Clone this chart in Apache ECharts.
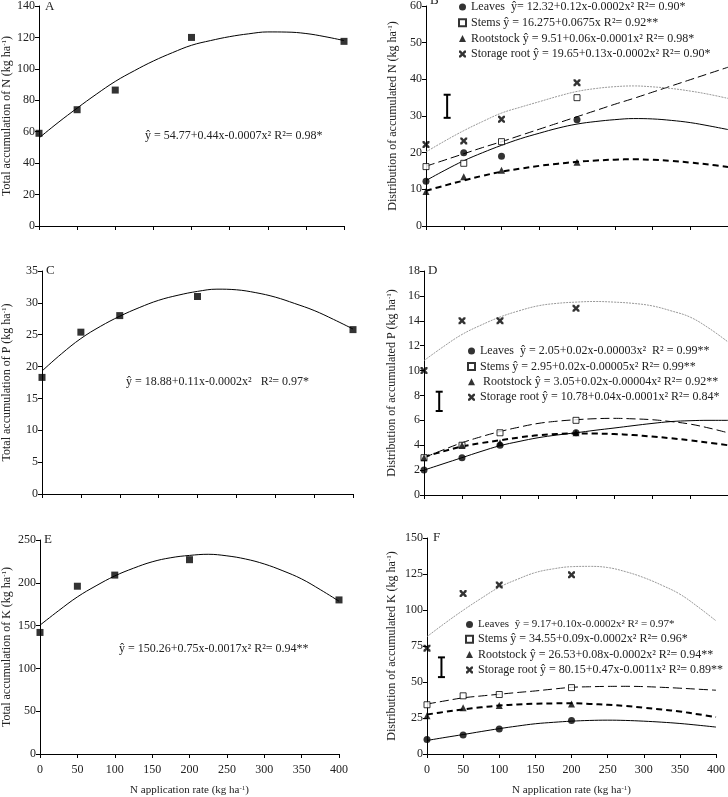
<!DOCTYPE html>
<html>
<head>
<meta charset="utf-8">
<script src="https://cdn.jsdelivr.net/npm/echarts@6/dist/echarts.min.js"></script>
<style>
html, body { margin: 0; padding: 0; background: #fff; }
#chart { width: 728px; height: 797px; }
</style>
</head>
<body>
<div id="chart"></div>
<script>
// x values (N application rate)
var rates = [0, 50, 100, 200, 400];
var ratesRight = [0, 50, 100, 200];
var curveX = [0, 25, 50, 75, 100, 125, 150, 175, 200, 225, 250, 275, 300, 325, 350, 375, 400];

// A, C, E - total accumulation (points and fitted curves)
var totalN = [59, 74, 86.5, 120, 117.5];
var totalNFit = [56, 65.8, 75, 83.8, 92, 98.8, 105, 110.3, 115, 118, 120.5, 122.3, 123.5, 123.4, 122.5, 120.5, 118];
var totalP = [18.3, 25.4, 28, 31, 25.8];
var totalPFit = [19.3, 22, 24.4, 26.3, 27.9, 29.25, 30.4, 31.2, 31.8, 32.15, 32.05, 31.6, 30.9, 29.9, 28.8, 27.4, 25.9];
var totalK = [142, 196, 209, 227, 180];
var totalKFit = [150.5, 167.5, 183.5, 196.5, 208, 217, 224.5, 229.3, 232, 233.3, 231.5, 227.8, 222, 214, 204.5, 192, 178.5];

// B - distribution of N
var nLeaves = [12.2, 20, 19, 29];
var nStems = [16.2, 17.1, 23, 35];
var nRoot = [9.4, 13.4, 15.2, 17.4];
var nStorage = [22.2, 23.2, 29.1, 39.1];
var nLeavesFit = [12.4, 15.2, 17.8, 20, 22, 23.8, 25.3, 26.7, 27.8, 28.5, 29, 29.3, 29.2, 28.8, 28.2, 27.3, 26.3];
var nStemsFit = [16.3, 18, 19.7, 21.4, 23, 24.7, 26.4, 28.1, 29.8, 31.5, 33.2, 34.8, 36.5, 38.2, 39.9, 41.6, 43.3];
var nRootFit = [9.6, 11.05, 12.4, 13.7, 14.8, 15.65, 16.4, 17, 17.5, 17.85, 18.1, 18.2, 18.05, 17.75, 17.3, 16.75, 16.1];
var nStorageFit = [20.2, 23.2, 26, 28.5, 30.8, 32.4, 33.9, 35.4, 36.7, 37.5, 38, 38.2, 37.95, 37.5, 36.8, 35.9, 34.8];
var nErrBar = [28, 29.5, 35.8];

// D - distribution of P
var pLeaves = [2, 3, 4, 5];
var pStems = [3, 4, 5, 6];
var pRoot = [3, 4, 4.2, 5];
var pStorage = [10, 14, 14, 15];
var pLeavesFit = [2, 2.5, 3, 3.5, 3.96, 4.3, 4.6, 4.82, 5, 5.2, 5.38, 5.57, 5.75, 5.9, 5.97, 6, 6];
var pStemsFit = [3, 3.62, 4.2, 4.68, 5.1, 5.45, 5.75, 5.93, 6.05, 6.13, 6.16, 6.12, 6.05, 5.9, 5.7, 5.38, 5];
var pRootFit = [3.07, 3.5, 3.9, 4.17, 4.4, 4.62, 4.8, 4.9, 4.95, 4.94, 4.9, 4.82, 4.7, 4.56, 4.4, 4.2, 4];
var pStorageFit = [10.8, 11.9, 12.9, 13.65, 14.3, 14.8, 15.2, 15.4, 15.5, 15.55, 15.5, 15.4, 15.2, 14.8, 14.3, 13.4, 12.3];
var pErrBar = [20, 6.75, 8.3];

// F - distribution of K
var kLeaves = [10, 13.2, 17.4, 23.3];
var kStems = [34.2, 40.4, 41.3, 46.1];
var kRoot = [26.5, 32.2, 33.6, 34.7];
var kStorage = [73.5, 111.4, 117.4, 124.4];
var kLeavesFit = [9.4, 11.5, 13.5, 15.6, 17.6, 19.4, 21, 22, 22.8, 23.3, 23.5, 23.3, 22.8, 22.1, 21.2, 20, 18.7];
var kStemsFit = [34.7, 36.9, 39, 40.3, 41.5, 42.7, 43.8, 45.1, 46.3, 46.7, 46.95, 47, 46.8, 46.3, 45.7, 45, 44.3];
var kRootFit = [27.4, 29.3, 31, 32.4, 33.6, 34.35, 34.9, 35.15, 35.2, 34.8, 34.2, 33.3, 32.2, 30.9, 29.5, 27.6, 25.6];
var kStorageFit = [81.5, 90.9, 99.8, 108.1, 115.8, 121.3, 126, 128.6, 130.1, 130.3, 129.5, 126.6, 122.5, 117.2, 111, 102.2, 92.5];
var kErrBar = [20, 53.4, 67.1];

var FONT = '"Liberation Serif", "Times New Roman", serif';
var INK = '#222';
var CROSS = 'path://M0,0L2.6,0L5,2.6L7.4,0L10,0L10,2.6L7.4,5L10,7.4L10,10L7.4,10L5,7.4L2.6,10L0,10L0,7.4L2.6,5L0,2.6Z';
var SMOOTH = 0.4;

function pairs(xs, ys) {
  return ys.map(function (y, i) { return [xs[i], y]; });
}

function renderErrorBar(params, api) {
  var top = api.coord([api.value(0), api.value(2)]);
  var bot = api.coord([api.value(0), api.value(1)]);
  var w = 3.5;
  var st = { stroke: '#000', lineWidth: 2 };
  return {
    type: 'group',
    children: [
      { type: 'line', shape: { x1: top[0], y1: top[1], x2: bot[0], y2: bot[1] }, style: st },
      { type: 'line', shape: { x1: top[0] - w, y1: top[1], x2: top[0] + w, y2: top[1] }, style: st },
      { type: 'line', shape: { x1: bot[0] - w, y1: bot[1], x2: bot[0] + w, y2: bot[1] }, style: st }
    ]
  };
}

var grids = [
  { left: 37, top: 5, width: 307, height: 221 },    // A
  { left: 426, top: 0, width: 312, height: 226 },   // B
  { left: 39, top: 271, width: 314, height: 223 },  // C
  { left: 424, top: 271, width: 316, height: 224 }, // D
  { left: 37, top: 540, width: 302, height: 217 },  // E
  { left: 427, top: 538, width: 305, height: 219 }  // F
];

var yRanges = [[140, 20], [60, 10], [35, 5], [18, 2], [250, 50], [150, 25]];
var yNames = [
  'Total accumulation of N (kg ha{s|-1})',
  'Distribution of accumulated N (kg ha{s|-1})',
  'Total accumulation of P (kg ha{s|-1})',
  'Distribution of accumulated P (kg ha{s|-1})',
  'Total accumulation of K (kg ha{s|-1})',
  'Distribution of accumulated K (kg ha{s|-1})'
];
var yNameGaps = [26, 27, 29, 26, 27, 29];

var supRich = { s: { fontSize: 7, verticalAlign: 'top', fontFamily: FONT, color: INK } };

var xAxes = grids.map(function (g, i) {
  var bottomRow = i >= 4;
  return {
    type: 'value', gridIndex: i, min: 0, max: 400, interval: 50,
    axisLine: { lineStyle: { color: '#000', width: 1 } },
    axisTick: { length: 4, lineStyle: { color: '#000' } },
    splitLine: { show: false },
    axisLabel: { show: bottomRow, color: INK, fontFamily: FONT, fontSize: 12, margin: 10 },
    name: bottomRow ? 'N application rate (kg ha{s|-1})' : '',
    nameLocation: 'middle', nameGap: 31,
    nameTextStyle: { color: INK, fontFamily: FONT, fontSize: 11, rich: supRich }
  };
});

var yAxes = grids.map(function (g, i) {
  return {
    type: 'value', gridIndex: i, min: 0, max: yRanges[i][0], interval: yRanges[i][1],
    axisLine: { show: true, lineStyle: { color: '#000', width: 1 } },
    axisTick: { show: true, length: 4, lineStyle: { color: '#000' } },
    splitLine: { show: false },
    axisLabel: { color: INK, fontFamily: FONT, fontSize: 12, margin: 4 },
    name: yNames[i], nameLocation: 'middle', nameGap: yNameGaps[i], nameRotate: 90,
    nameTextStyle: { color: INK, fontFamily: FONT, fontSize: 12, rich: supRich }
  };
});

var series = [];

function addTotal(idx, pts, fit) {
  series.push({
    type: 'line', xAxisIndex: idx, yAxisIndex: idx, data: pairs(curveX, fit),
    smooth: SMOOTH, symbol: 'none', silent: true,
    lineStyle: { color: '#000', width: 1 }
  });
  series.push({
    type: 'scatter', xAxisIndex: idx, yAxisIndex: idx, data: pairs(rates, pts),
    symbol: 'rect', symbolSize: 7, itemStyle: { color: '#000' }
  });
}

var fitStyles = [
  { color: '#000', width: 1, type: 'solid' },
  { color: '#000', width: 1, type: [9, 4] },
  { color: '#000', width: 2, type: [6, 4] },
  { color: '#999', width: 1, type: [2, 1] }
];
var markStyles = [
  { symbol: 'circle', symbolSize: 7, itemStyle: { color: '#000' } },
  { symbol: 'rect', symbolSize: 6, itemStyle: { color: '#fff', borderColor: '#000', borderWidth: 1 } },
  { symbol: 'triangle', symbolSize: 7, itemStyle: { color: '#000' } },
  { symbol: CROSS, symbolSize: 7, itemStyle: { color: '#000' } }
];

function addDistribution(idx, names, groups, fits, err) {
  fits.forEach(function (fit, k) {
    series.push({
      type: 'line', xAxisIndex: idx, yAxisIndex: idx, data: pairs(curveX, fit),
      smooth: SMOOTH, symbol: 'none', silent: true, lineStyle: fitStyles[k]
    });
  });
  groups.forEach(function (pts, k) {
    series.push({
      type: 'scatter', name: names[k], xAxisIndex: idx, yAxisIndex: idx,
      data: pairs(ratesRight, pts), symbol: markStyles[k].symbol,
      symbolSize: markStyles[k].symbolSize, itemStyle: markStyles[k].itemStyle, z: 5
    });
  });
  series.push({
    type: 'custom', xAxisIndex: idx, yAxisIndex: idx, data: [err],
    encode: { x: 0, y: [1, 2] }, renderItem: renderErrorBar, silent: true
  });
}

var namesN = [
  'Leaves  ŷ= 12.32+0.12x-0.0002x² R²= 0.90*',
  'Stems ŷ = 16.275+0.0675x R²= 0.92**',
  'Rootstock ŷ = 9.51+0.06x-0.0001x² R²= 0.98*',
  'Storage root ŷ = 19.65+0.13x-0.0002x² R²= 0.90*'
];
var namesP = [
  'Leaves  ŷ = 2.05+0.02x-0.00003x²  R² = 0.99**',
  'Stems ŷ = 2.95+0.02x-0.00005x² R²= 0.99**',
  ' Rootstock ŷ = 3.05+0.02x-0.00004x² R²= 0.92**',
  'Storage root ŷ = 10.78+0.04x-0.0001x² R²= 0.84*'
];
var namesK = [
  'Leaves  ŷ = 9.17+0.10x-0.0002x² R² = 0.97*',
  'Stems ŷ = 34.55+0.09x-0.0002x² R²= 0.96*',
  'Rootstock ŷ = 26.53+0.08x-0.0002x² R²= 0.94**',
  'Storage root ŷ = 80.15+0.47x-0.0011x² R²= 0.89**'
];

addTotal(0, totalN, totalNFit);
addDistribution(1, namesN, [nLeaves, nStems, nRoot, nStorage],
  [nLeavesFit, nStemsFit, nRootFit, nStorageFit], nErrBar);
addTotal(2, totalP, totalPFit);
addDistribution(3, namesP, [pLeaves, pStems, pRoot, pStorage],
  [pLeavesFit, pStemsFit, pRootFit, pStorageFit], pErrBar);
addTotal(4, totalK, totalKFit);
addDistribution(5, namesK, [kLeaves, kStems, kRoot, kStorage],
  [kLeavesFit, kStemsFit, kRootFit, kStorageFit], kErrBar);

function legendAt(left, top, names, gap, firstSize) {
  return {
    orient: 'vertical', left: left, top: top, padding: 0, itemGap: gap,
    itemWidth: 7, itemHeight: 7, selectedMode: false,
    textStyle: { color: INK, fontFamily: FONT, fontSize: 12 },
    data: names.map(function (n, i) {
      return i === 0 && firstSize ? { name: n, textStyle: { fontSize: firstSize } } : n;
    })
  };
}

function label(text, left, top, size) {
  return {
    type: 'text', left: left, top: top,
    style: { text: text, fill: INK, font: (size || 12) + 'px ' + FONT }
  };
}

var myChart = echarts.init(document.getElementById('chart'), null, { renderer: 'canvas' });
myChart.setOption({
  animation: false,
  backgroundColor: '#fff',
  grid: grids,
  xAxis: xAxes,
  yAxis: yAxes,
  legend: [
    legendAt(458, 1, namesN, 3.7),
    legendAt(467, 345, namesP, 3.4),
    legendAt(465, 619, namesK, 3.3, 11)
  ],
  series: series,
  graphic: [
    label('A', 45, 0, 13),
    label('B', 430, -6, 13),
    label('C', 46, 264, 13),
    label('D', 428, 264, 13),
    label('E', 44, 533, 13),
    label('F', 433, 531, 13),
    label('ŷ = 54.77+0.44x-0.0007x² R²= 0.98*', 145, 130),
    label('ŷ = 18.88+0.11x-0.0002x²   R²= 0.97*', 126, 376),
    label('ŷ = 150.26+0.75x-0.0017x² R²= 0.94**', 119, 643)
  ]
});
</script>
</body>
</html>
